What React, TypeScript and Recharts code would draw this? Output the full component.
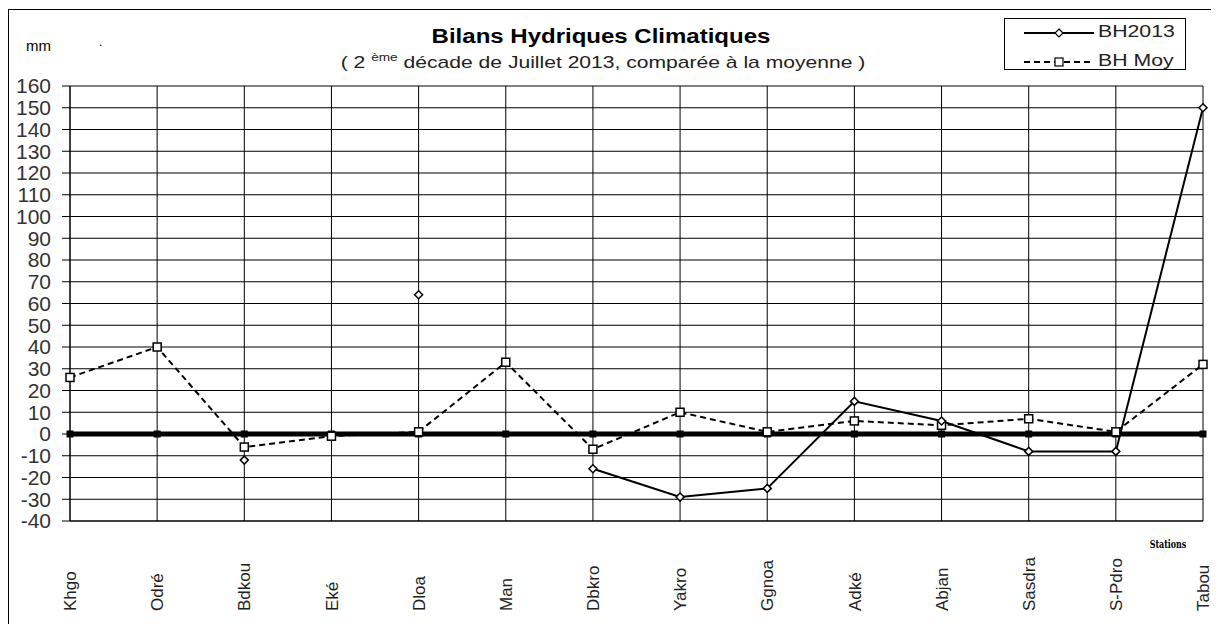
import React from 'react';
import { LineChart, Line, XAxis, YAxis, CartesianGrid } from 'recharts';

// Bilans hydriques, 2e décade de juillet 2013 (mm)
const stations = ['Khgo', 'Odré', 'Bdkou', 'Eké', 'Dloa', 'Man', 'Dbkro', 'Yakro', 'Ggnoa', 'Adké', 'Abjan', 'Sasdra', 'S-Pdro', 'Tabou'];
const bh2013 = [null, null, -12, null, 64, null, -16, -29, -25, 15, 6, -8, -8, 150];
const bhMoy = [26, 40, -6, -1, 1, 33, -7, 10, 1, 6, 4, 7, 1, 32];
const zeroRef = [0, 0, 0, 0, 0, 0, 0, 0, 0, 0, 0, 0, 0, 0];
const yTicks = [-40, -30, -20, -10, 0, 10, 20, 30, 40, 50, 60, 70, 80, 90, 100, 110, 120, 130, 140, 150, 160];

const data = stations.map((station, i) => ({
  station,
  bh2013: bh2013[i],
  bhMoy: bhMoy[i],
  zero: zeroRef[i],
}));

const FONT = "'Liberation Sans', Arial, sans-serif";

const Diamond = (props: any) => {
  const { cx, cy, value, index } = props;
  if (value == null || cy == null) return <g key={`d-${index}`} />;
  const r = 4;
  return (
    <path
      key={`d-${index}`}
      d={`M${cx},${cy - r} L${cx + r},${cy} L${cx},${cy + r} L${cx - r},${cy} Z`}
      fill="#fff"
      stroke="#000"
      strokeWidth={1.5}
    />
  );
};

const Square = (props: any) => {
  const { cx, cy, value, index } = props;
  if (value == null || cy == null) return <g key={`s-${index}`} />;
  return <rect key={`s-${index}`} x={cx - 4} y={cy - 4} width={8} height={8} fill="#fff" stroke="#000" strokeWidth={1.5} />;
};

const SmallBlock = (props: any) => {
  const { cx, cy, index } = props;
  return <rect key={`z-${index}`} x={cx - 3.5} y={cy - 3.5} width={7} height={7} fill="#000" />;
};

const StationTick = (props: any) => {
  const { x, payload } = props;
  return (
    <text
      transform={`translate(${x},603) rotate(-90)`}
      textAnchor="start"
      dy="0.36em"
      fontSize={17}
      fontFamily={FONT}
      fill="#222"
    >
      {payload.value}
    </text>
  );
};

export default function App() {
  return (
    <div style={{ position: 'relative', width: 1211, height: 616, background: '#fff', fontFamily: FONT, overflow: 'hidden' }}>
      <div style={{ position: 'absolute', left: 0, top: 1, width: 1206, height: 700, border: '1.5px solid #000' }} />

      <LineChart width={1211} height={616} data={data} margin={{ top: 78, right: 16, left: 0, bottom: 0 }}>
        <CartesianGrid stroke="#000" strokeWidth={1} />
        <XAxis
          dataKey="station"
          height={103}
          axisLine={{ stroke: '#000' }}
          tickLine={false}
          interval={0}
          tick={<StationTick />}
        />
        <YAxis
          width={62}
          domain={[-40, 160]}
          ticks={yTicks}
          interval={0}
          tickSize={8}
          tickMargin={11}
          axisLine={{ stroke: '#000' }}
          tickLine={{ stroke: '#000' }}
          tick={{ fontSize: 21, fill: '#333', fontFamily: FONT }}
        />
        <Line dataKey="zero" stroke="#000" strokeWidth={5} dot={<SmallBlock />} isAnimationActive={false} />
        <Line dataKey="bhMoy" stroke="#000" strokeWidth={2} strokeDasharray="6 4" dot={<Square />} isAnimationActive={false} />
        <Line dataKey="bh2013" stroke="#000" strokeWidth={2} dot={<Diamond />} connectNulls={false} isAnimationActive={false} />
      </LineChart>

      <div style={{ position: 'absolute', left: 0, width: 1186, top: 17, textAlign: 'center', fontWeight: 'bold', fontSize: 20, transform: 'scaleX(1.2)' }}>
        Bilans Hydriques Climatiques
      </div>
      <div style={{ position: 'absolute', left: 0, width: 1190, top: 43, textAlign: 'center', fontSize: 17, color: '#222', transform: 'scaleX(1.24)' }}>
        ( 2 <sup style={{ fontSize: 11 }}>ème</sup> décade de Juillet 2013, comparée à la moyenne )
      </div>
      <div style={{ position: 'absolute', left: 18, top: 29, fontSize: 15 }}>mm</div>
      <div style={{ position: 'absolute', left: 91, top: 27, fontSize: 12 }}>.</div>
      <div style={{ position: 'absolute', left: 1130, width: 60, top: 530, textAlign: 'center', fontSize: 11, fontWeight: 'bold', fontFamily: "'DejaVu Serif Condensed', 'Liberation Serif', serif", transform: 'scaleX(0.8)' }}>
        Stations
      </div>

      <div style={{ position: 'absolute', left: 996, top: 10, width: 180, height: 50, border: '1px solid #000', background: '#fff', fontSize: 17 }}>
        <svg width={92} height={50} style={{ position: 'absolute', left: 0, top: 0 }}>
          <line x1={19} x2={89} y1={14} y2={14} stroke="#000" strokeWidth={2} />
          <path d="M54,10 L58,14 L54,18 L50,14 Z" fill="#fff" stroke="#000" strokeWidth={1.2} />
          <line x1={19} x2={89} y1={43} y2={43} stroke="#000" strokeWidth={2} strokeDasharray="6 4" />
          <rect x={50} y={39} width={8} height={8} fill="#fff" stroke="#000" strokeWidth={1.2} />
        </svg>
        <div style={{ position: 'absolute', left: 93, top: 3, color: '#222', transform: 'scaleX(1.25)', transformOrigin: 'left' }}>BH2013</div>
        <div style={{ position: 'absolute', left: 93, top: 32, color: '#222', transform: 'scaleX(1.25)', transformOrigin: 'left' }}>BH Moy</div>
      </div>
    </div>
  );
}
